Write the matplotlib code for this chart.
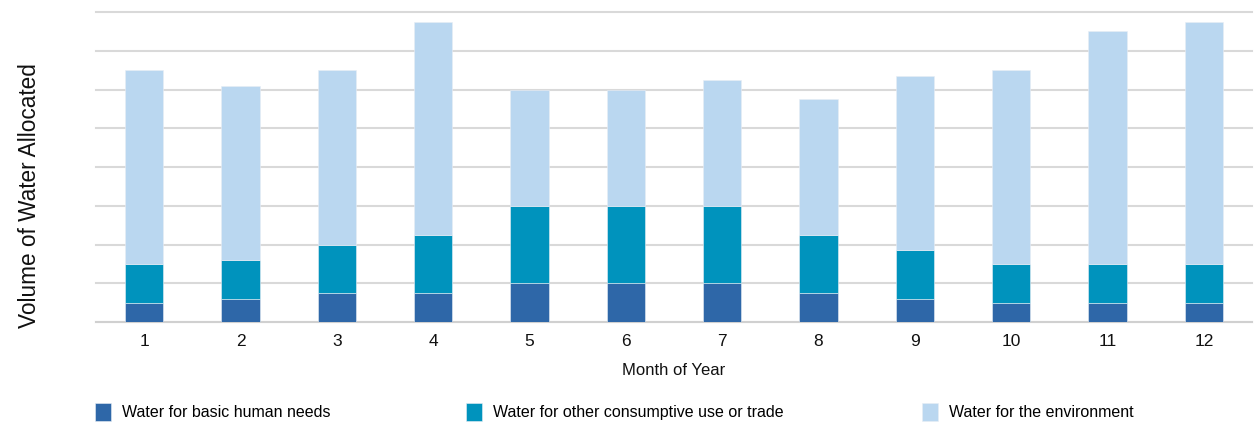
import numpy as np
import matplotlib.pyplot as plt

# data (units = gridline steps)
months = np.arange(1, 13)
basic_needs = [0.5, 0.6, 0.75, 0.75, 1.0, 1.0, 1.0, 0.75, 0.6, 0.5, 0.5, 0.5]
consumptive = [1.0, 1.0, 1.25, 1.5, 2.0, 2.0, 2.0, 1.5, 1.25, 1.0, 1.0, 1.0]
environment = [5.0, 4.5, 4.5, 5.5, 3.0, 3.0, 3.25, 3.5, 4.5, 5.0, 6.0, 6.25]

labels = ["Water for basic human needs",
          "Water for other consumptive use or trade",
          "Water for the environment"]
colors = ["#2E67A8", "#0093BD", "#BAD7F0"]

plt.rcParams['font.family'] = ['Liberation Sans', 'DejaVu Sans']

fig = plt.figure(figsize=(12.56, 4.24), dpi=100)
ax = fig.add_axes([96 / 1256, 102 / 424, (1252 - 96) / 1256, (322 - 12) / 424])

width = 0.4
bottom1 = np.array(basic_needs)
bottom2 = bottom1 + np.array(consumptive)
b1 = ax.bar(months, basic_needs, width, color=colors[0], edgecolor="#e8eef5", linewidth=0.4, zorder=3)
b2 = ax.bar(months, consumptive, width, bottom=bottom1, color=colors[1], edgecolor="#e8eef5", linewidth=0.4, zorder=3)
b3 = ax.bar(months, environment, width, bottom=bottom2, color=colors[2], edgecolor="#e8eef5", linewidth=0.4, zorder=3)

ax.set_xlim(0.5, 12.5)
ax.set_ylim(0, 8)
ax.set_yticks(np.arange(0, 9))
ax.set_yticklabels([])
ax.yaxis.grid(True, color="#d9d9d9", linewidth=1.5, zorder=0)
for gl in ax.get_ygridlines():
    gl.set_clip_on(False)
ax.tick_params(axis='y', length=0)
ax.tick_params(axis='x', length=0, labelsize=12.5, pad=9, colors="#111111")
ax.set_xticks(months)
for s in ["top", "right", "left"]:
    ax.spines[s].set_visible(False)
ax.spines["bottom"].set_color("#d0d0d0")
ax.spines["bottom"].set_linewidth(1.5)

ax.set_xlabel("Month of Year", fontsize=12, labelpad=10, color="#111111")
fig.text(30 / 1256, 1 - 196 / 424, "Volume of Water Allocated", rotation=90,
         fontsize=16.3, ha="center", va="center", color="#111111")

# legend: three separate entries placed like the reference
for handle, label, x in zip([b1, b2, b3], labels, [95, 466, 922]):
    fig.legend([handle], [label], loc="center left", bbox_to_anchor=(x / 1256, 1 - 412 / 424),
               frameon=False, fontsize=11.5, handlelength=1.0, handleheight=1.4,
               handletextpad=0.7, borderpad=0, borderaxespad=0)

fig.savefig("out.png", dpi=100)
